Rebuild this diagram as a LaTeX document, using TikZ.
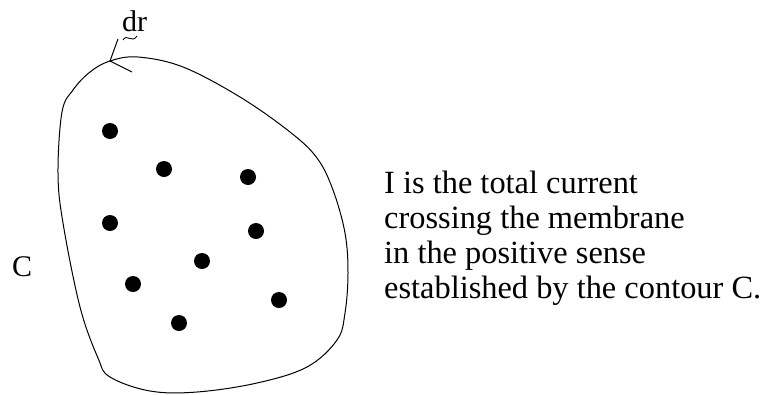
\documentclass[tikz,border=0pt]{standalone}
\usepackage{fontspec}
\setmainfont{Liberation Serif}
\begin{document}
\begin{tikzpicture}[x=1pt,y=-1pt,
  dotnode/.style={circle,fill=black,draw=none,minimum size=16pt,inner sep=0pt},
  txt/.style={anchor=base west,inner sep=0pt,font=\fontsize{32.4}{35}\selectfont},
  lbl/.style={anchor=base west,inner sep=0pt,font=\fontsize{30}{32}\selectfont},
  contourline/.style={line width=1pt,line join=round}]
\useasboundingbox (0,0) rectangle (765,394);
% contour
\draw[contourline] plot[smooth cycle,tension=0.6] coordinates {
  (110,61) (138,57) (183,67) (240,97) (290,132) (317,158) (333,190)
  (345,233) (348,273) (345,313) (337,340) (307,367) (257,383) (197,392)
  (150,391) (110,377) (98,358) (80,307) (63,223) (58,173) (62,112)
  (73,90) (90,72)};
% tick and label dr
\coordinate (tp) at (110,61);
\coordinate (tu) at (118,39);
\coordinate (td) at (132,72);
\draw[line width=1pt] (tu) -- (tp) -- (td);
\node[lbl] (dr) at (122,31) {dr};
\draw[line width=0.9pt] (123,40) .. controls (127,33) and (132,44) .. (137,36);
% label C
\node[lbl] (C) at (12,276) {C};
% dots
\node[dotnode] (p1) at (110,131) {};
\node[dotnode] (p2) at (164,169) {};
\node[dotnode] (p3) at (248,177) {};
\node[dotnode] (p4) at (110,223) {};
\node[dotnode] (p5) at (256,231) {};
\node[dotnode] (p6) at (202,261) {};
\node[dotnode] (p7) at (133,284) {};
\node[dotnode] (p8) at (279,300) {};
\node[dotnode] (p9) at (179,323) {};
% text
\node[txt] (t1) at (384,193) {I is the total current};
\node[txt] (t2) at (384,228) {crossing the membrane};
\node[txt] (t3) at (384,263) {in the positive sense};
\node[txt] (t4) at (384,298) {established by the contour C.};
\end{tikzpicture}
\end{document}
